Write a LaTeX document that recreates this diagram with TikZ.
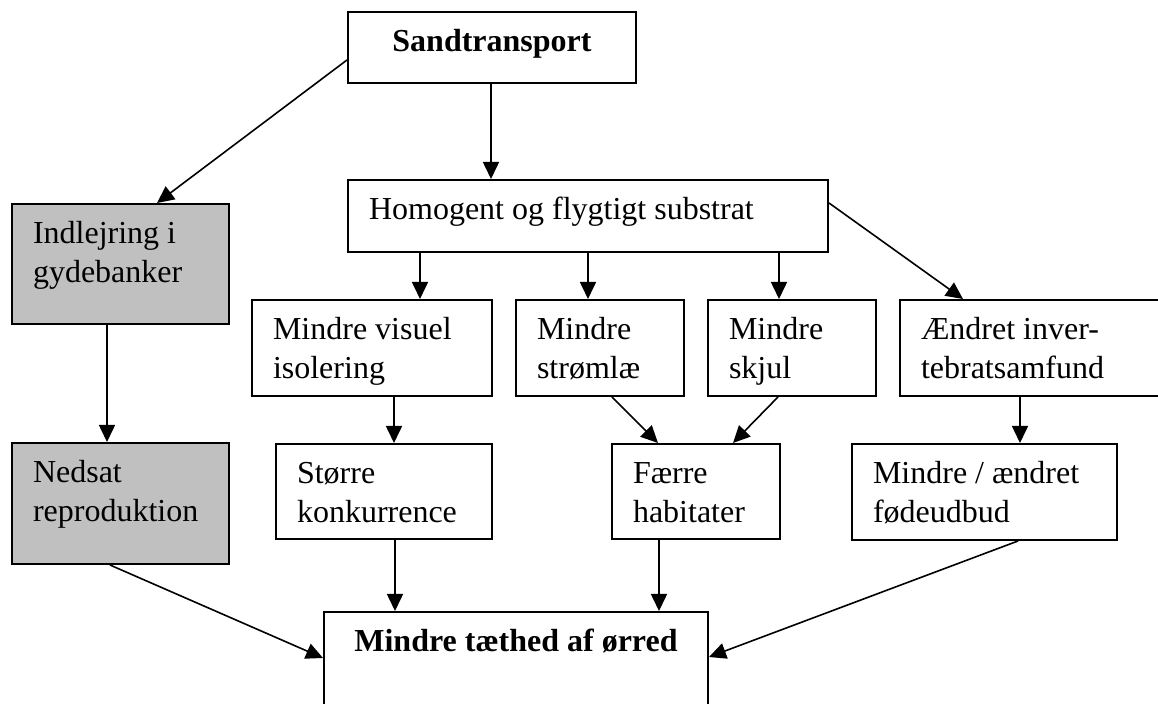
\documentclass[tikz,border=0pt]{standalone}
\usepackage{fontspec}
\setmainfont{Liberation Serif}
\usetikzlibrary{arrows.meta}
\definecolor{boxgray}{RGB}{192,192,192}
\newcommand{\bxl}[3]{\begin{minipage}[t][\dimexpr#2pt/2\relax][t]{\dimexpr(#1pt-42pt)/2\relax}\raggedright\rule{0pt}{20pt}#3\end{minipage}}
\newcommand{\bxc}[3]{\begin{minipage}[t][\dimexpr#2pt/2\relax][t]{\dimexpr(#1pt-42pt)/2\relax}\centering\rule{0pt}{20pt}\textbf{#3}\end{minipage}}
\begin{document}
\begin{tikzpicture}[x=0.5pt,y=-0.5pt,
  box/.style={draw, line width=1pt, inner ysep=0pt, inner xsep=10.5pt, anchor=north west,
    font=\fontsize{16pt}{19.25pt}\selectfont},
  graybox/.style={box, fill=boxgray},
  arr/.style={line width=0.8pt, -{Triangle[length=8.5pt,width=8pt]}}]
\useasboundingbox (0,0) rectangle (1158,704);
\clip (0,0) rectangle (1158,704);
\fill[white] (0,0) rectangle (1158,704);
% nodes
\node[box] (sand) at (347,11) {\bxc{288}{71}{Sandtransport}};
\node[graybox] (indl) at (11,203) {\bxl{217}{120}{Indlejring i\\gydebanker}};
\node[graybox] (ned) at (11,442) {\bxl{217}{121}{Nedsat\\reproduktion}};
\node[box] (homo) at (347,179) {\bxl{480}{72}{Homogent og flygtigt substrat}};
\node[box] (vis) at (251,299) {\bxl{240}{96}{Mindre visuel\\isolering}};
\node[box] (strom) at (515,299) {\bxl{168}{96}{Mindre\\strømlæ}};
\node[box] (skjul) at (707,299) {\bxl{168}{96}{Mindre\\skjul}};
\node[box] (aend) at (899,299) {\bxl{280}{96}{Ændret inver-\\tebratsamfund}};
\node[box] (stor) at (275,443) {\bxl{216}{95}{Større\\konkurrence}};
\node[box] (faerre) at (611,443) {\bxl{168}{95}{Færre\\habitater}};
\node[box] (fode) at (851,443) {\bxl{265}{96}{Mindre / ændret\\fødeudbud}};
\node[box] (taet) at (323,611) {\bxc{384}{120}{Mindre tæthed af ørred}};
% connectors
\draw[arr] (sand.west |- 0,60) -- (indl.north -| 157,0);
\draw[arr] (sand.south -| 491,0) -- (homo.north -| 491,0);
\draw[arr] (indl.south -| 107,0) -- (ned.north -| 107,0);
\draw[arr] (ned.south -| 110,0) -- (taet.west |- 0,658);
\draw[arr] (homo.south -| 420,0) -- (vis.north -| 420,0);
\draw[arr] (homo.south -| 588,0) -- (strom.north -| 588,0);
\draw[arr] (homo.south -| 779,0) -- (skjul.north -| 779,0);
\draw[arr] (homo.east |- 0,203) -- (aend.north -| 963,0);
\draw[arr] (vis.south -| 394,0) -- (stor.north -| 394,0);
\draw[arr] (strom.south -| 612,0) -- (faerre.north -| 658,0);
\draw[arr] (skjul.south -| 778,0) -- (faerre.north -| 733,0);
\draw[arr] (aend.south -| 1020,0) -- (fode.north -| 1020,0);
\draw[arr] (stor.south -| 395,0) -- (taet.north -| 395,0);
\draw[arr] (faerre.south -| 659,0) -- (taet.north -| 659,0);
\draw[arr] (fode.south -| 1018,0) -- (taet.east |- 0,657);
\end{tikzpicture}
\end{document}
